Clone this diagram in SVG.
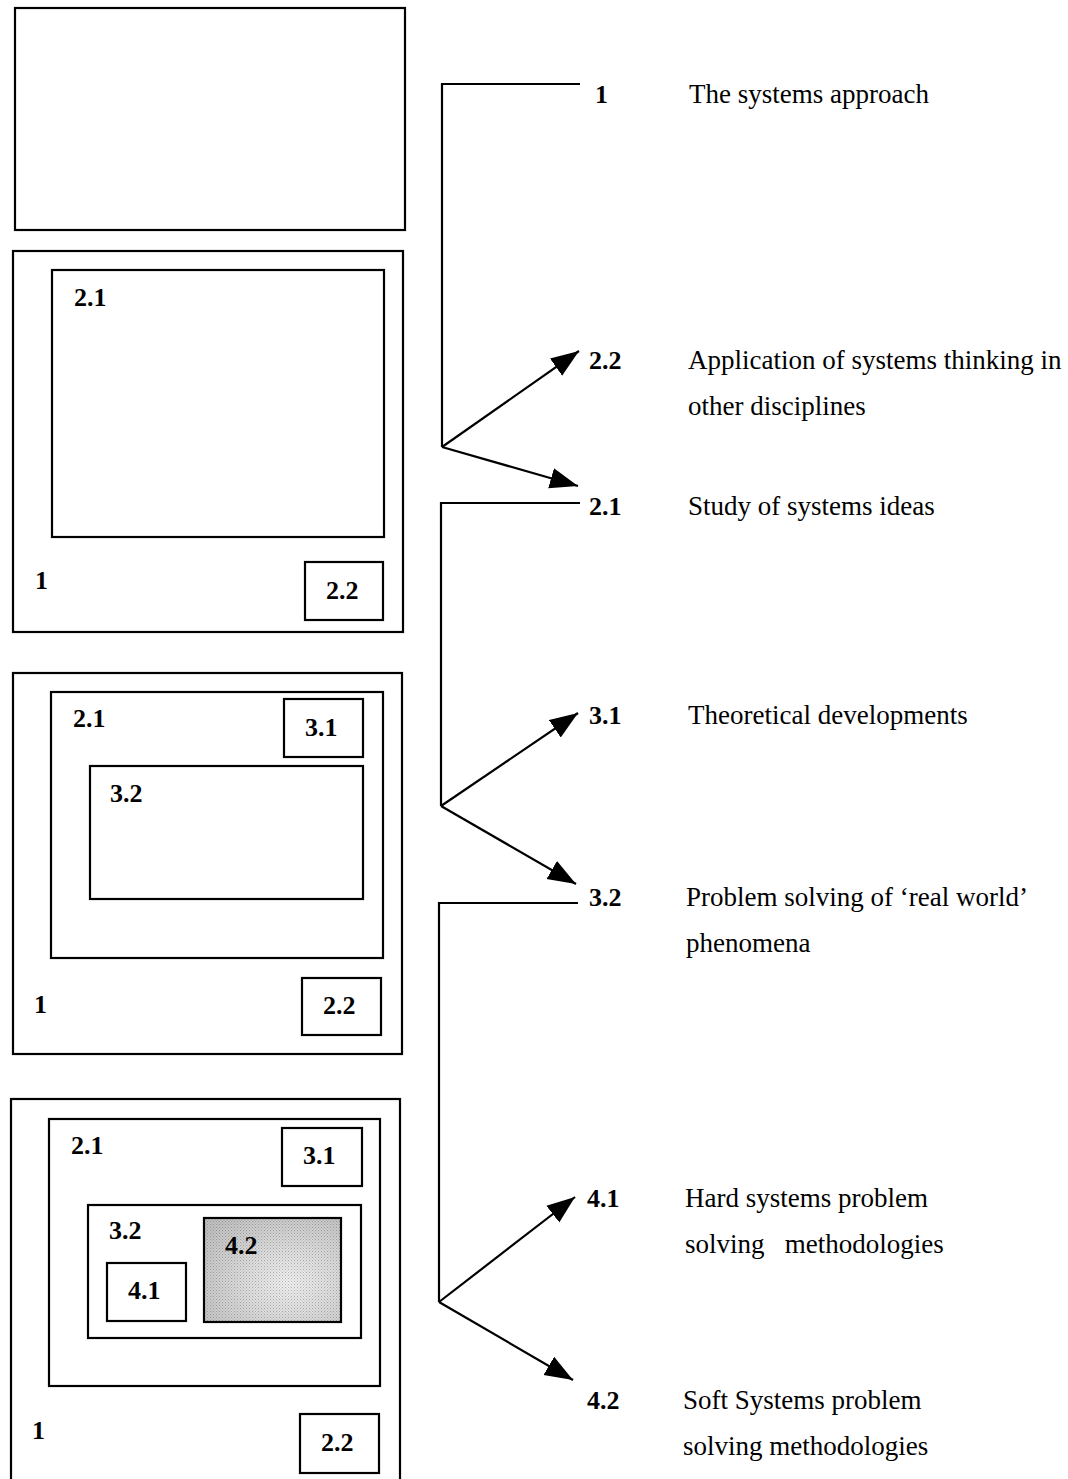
<svg xmlns="http://www.w3.org/2000/svg" width="1068" height="1479" viewBox="0 0 1068 1479">
<style>
.box{fill:#fff;stroke:#000;stroke-width:2.2}
.lbl{font-family:"Liberation Serif","Times New Roman",serif;font-weight:bold;font-size:26px;fill:#000}
.txt{font-family:"Liberation Serif","Times New Roman",serif;font-size:27px;fill:#000}
.con{fill:none;stroke:#000;stroke-width:2.2}
</style>
<defs>
<marker id="arr" markerUnits="userSpaceOnUse" markerWidth="30" markerHeight="24" viewBox="0 0 30 24" refX="28" refY="12" orient="auto">
<path d="M0,1.5 L28,12 L0,22.5 Z" fill="#000"/>
</marker>
<radialGradient id="shade" cx="0.62" cy="0.62" r="0.75">
<stop offset="0" stop-color="#f0f0f0"/>
<stop offset="0.45" stop-color="#dcdcdc"/>
<stop offset="1" stop-color="#c2c2c2"/>
</radialGradient>
<pattern id="dots" patternUnits="userSpaceOnUse" width="3" height="3">
<rect x="0" y="0" width="1" height="1" fill="#000" fill-opacity="0.25"/>
<rect x="1.5" y="1.5" width="1" height="1" fill="#000" fill-opacity="0.2"/>
</pattern>
</defs>

<g id="stage1">
<rect class="box" x="15" y="8" width="390" height="222"/>
</g>

<g id="stage2">
<rect class="box" x="13" y="251" width="390" height="381"/>
<rect class="box" x="52" y="270" width="332" height="267"/>
<rect class="box" x="305" y="562" width="78" height="58"/>
<text class="lbl" x="74" y="306">2.1</text>
<text class="lbl" x="35" y="589">1</text>
<text class="lbl" x="326" y="599">2.2</text>
</g>

<g id="stage3">
<rect class="box" x="13" y="673" width="389" height="381"/>
<rect class="box" x="51" y="692" width="332" height="266"/>
<rect class="box" x="284" y="699" width="79" height="58"/>
<rect class="box" x="90" y="766" width="273" height="133"/>
<rect class="box" x="302" y="978" width="79" height="57"/>
<text class="lbl" x="73" y="727">2.1</text>
<text class="lbl" x="305" y="736">3.1</text>
<text class="lbl" x="110" y="802">3.2</text>
<text class="lbl" x="34" y="1013">1</text>
<text class="lbl" x="323" y="1014">2.2</text>
</g>

<g id="stage4">
<rect class="box" x="11" y="1099" width="389" height="390"/>
<rect class="box" x="49" y="1119" width="331" height="267"/>
<rect class="box" x="282" y="1128" width="80" height="58"/>
<rect class="box" x="88" y="1205" width="273" height="133"/>
<rect class="box" x="107" y="1263" width="79" height="58"/>
<rect x="204" y="1218" width="137" height="104" fill="url(#shade)"/>
<rect x="204" y="1218" width="137" height="104" fill="url(#dots)" stroke="#000" stroke-width="2.2"/>
<rect class="box" x="300" y="1414" width="79" height="59"/>
<text class="lbl" x="71" y="1154">2.1</text>
<text class="lbl" x="303" y="1164">3.1</text>
<text class="lbl" x="109" y="1239">3.2</text>
<text class="lbl" x="225" y="1254">4.2</text>
<text class="lbl" x="128" y="1299">4.1</text>
<text class="lbl" x="32" y="1439">1</text>
<text class="lbl" x="321" y="1451">2.2</text>
</g>

<g id="connectors">
<path class="con" d="M580,84 H442 V447"/>
<line class="con" x1="442" y1="447" x2="579" y2="351" marker-end="url(#arr)"/>
<line class="con" x1="442" y1="447" x2="578" y2="486" marker-end="url(#arr)"/>
<path class="con" d="M580,503 H441 V806"/>
<line class="con" x1="441" y1="806" x2="578" y2="713" marker-end="url(#arr)"/>
<line class="con" x1="441" y1="806" x2="576" y2="884" marker-end="url(#arr)"/>
<path class="con" d="M578,903 H439 V1302"/>
<line class="con" x1="439" y1="1302" x2="575" y2="1197" marker-end="url(#arr)"/>
<line class="con" x1="439" y1="1302" x2="573" y2="1380" marker-end="url(#arr)"/>
</g>

<g id="legend">
<text class="lbl" x="595" y="103">1</text>
<text class="txt" x="689" y="103">The systems approach</text>
<text class="lbl" x="589" y="369">2.2</text>
<text class="txt" x="688" y="369">Application of systems thinking in</text>
<text class="txt" x="688" y="415">other disciplines</text>
<text class="lbl" x="589" y="515">2.1</text>
<text class="txt" x="688" y="515">Study of systems ideas</text>
<text class="lbl" x="589" y="724">3.1</text>
<text class="txt" x="688" y="724">Theoretical developments</text>
<text class="lbl" x="589" y="906">3.2</text>
<text class="txt" x="686" y="906">Problem solving of ‘real world’</text>
<text class="txt" x="686" y="952">phenomena</text>
<text class="lbl" x="587" y="1207">4.1</text>
<text class="txt" x="685" y="1207">Hard systems problem</text>
<text class="txt" x="685" y="1253" xml:space="preserve">solving   methodologies</text>
<text class="lbl" x="587" y="1409">4.2</text>
<text class="txt" x="683" y="1409">Soft Systems problem</text>
<text class="txt" x="683" y="1455">solving methodologies</text>
</g>
</svg>
